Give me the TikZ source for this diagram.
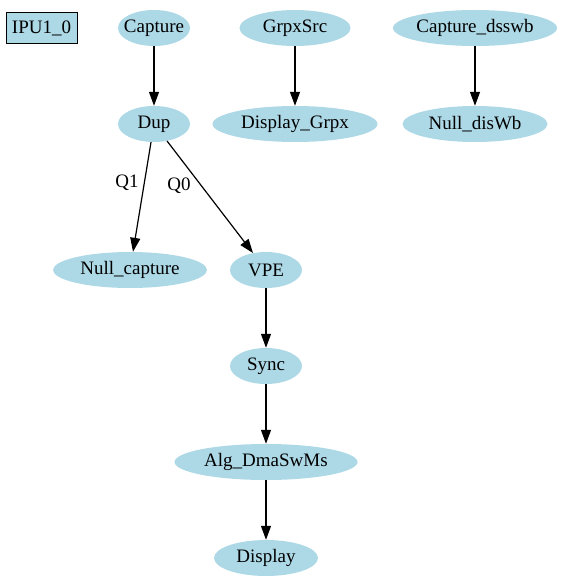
\documentclass[tikz,border=0pt]{standalone}
\usepackage{fontspec}
\setmainfont{Liberation Serif}
\usetikzlibrary{arrows.meta,shapes.geometric}
\definecolor{lb}{HTML}{ADD8E6}
\begin{document}
\begin{tikzpicture}[x=1pt,y=-1pt,
  every node/.style={font=\fontsize{19}{22}\selectfont},
  nd/.style={ellipse,fill=lb,minimum height=36pt,inner sep=0pt,label={[inner sep=0pt]center:#1}},
  box/.style={rectangle,draw=black,fill=lb,minimum width=71pt,minimum height=31pt,inner sep=0pt,line width=1pt},
  edge/.style={draw=black,line width=1.2pt,-{Triangle[length=14pt,width=10pt]}},
  lbl/.style={inner sep=0pt}]
\useasboundingbox (0,0) rectangle (572,588);
\node[box] (ipu) at (41.5,28.5) {IPU1\_0};
\node[nd={Capture},minimum width=72pt] (cap) at (154,28) {};
\node[nd={GrpxSrc},minimum width=111pt] (grpx) at (295,28) {};
\node[nd={Capture\_dsswb},minimum width=164pt] (capd) at (475,28) {};
\node[nd={Dup},minimum width=72pt] (dup) at (154,124) {};
\node[nd={Display\_Grpx},minimum width=165pt] (dgr) at (295,124) {};
\node[nd={Null\_disWb},minimum width=145pt] (ndw) at (475,124) {};
\node[nd={Null\_capture},minimum width=154pt] (ncap) at (130,270) {};
\node[nd={VPE},minimum width=72pt] (vpe) at (266,270) {};
\node[nd={Sync},minimum width=72pt] (sync) at (266,366) {};
\node[nd={Alg\_DmaSwMs},minimum width=183pt] (alg) at (266,462) {};
\node[nd={Display},minimum width=104pt] (disp) at (266,558) {};
\node[lbl] (q1) at (127,183) {Q1};
\node[lbl] (q0) at (179,186) {Q0};
\draw[edge] (cap) -- (dup);
\draw[edge] (grpx) -- (dgr);
\draw[edge] (capd) -- (ndw);
\draw[edge] (dup) -- (ncap);
\draw[edge] (dup) -- (vpe);
\draw[edge] (vpe) -- (sync);
\draw[edge] (sync) -- (alg);
\draw[edge] (alg) -- (disp);
\end{tikzpicture}
\end{document}
